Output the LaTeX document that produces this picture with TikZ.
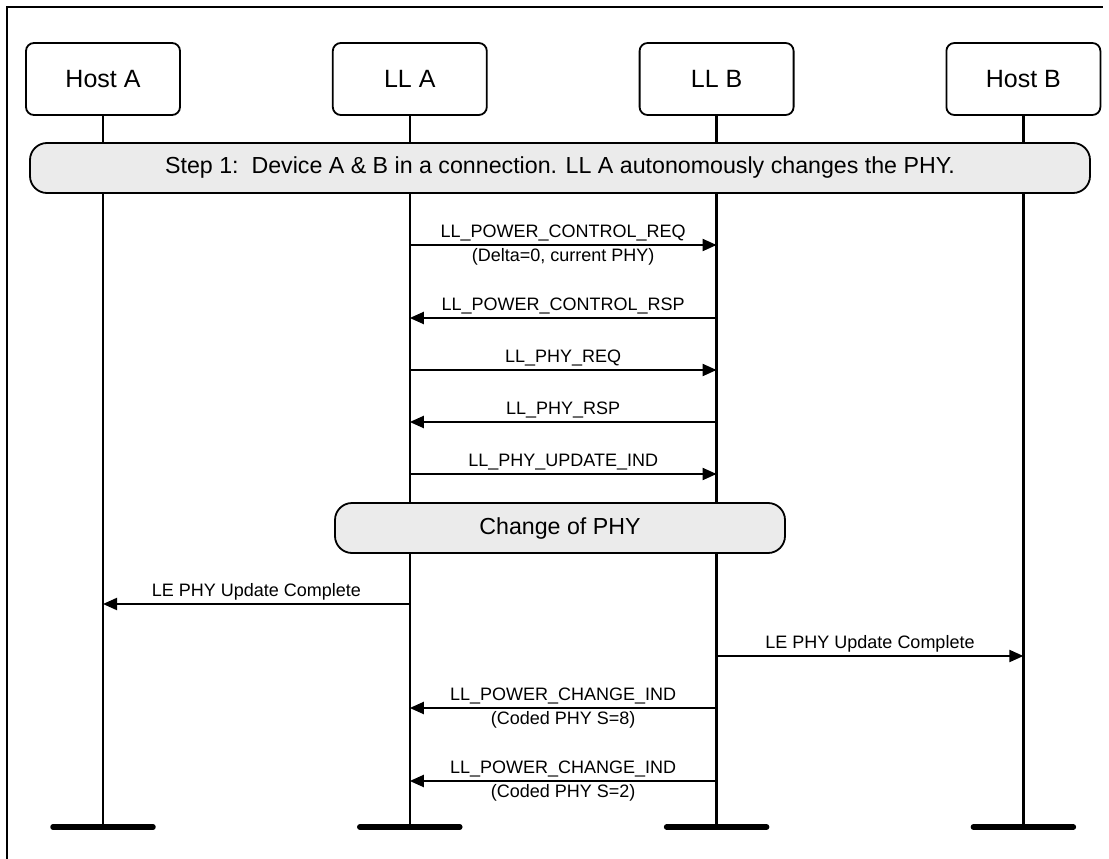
\documentclass[tikz,border=0pt]{standalone}
\usepackage{fontspec}
\setmainfont{Liberation Sans}
\usetikzlibrary{positioning,arrows.meta}
\definecolor{bandgray}{HTML}{EBEBEB}
\tikzset{
  actor/.style={draw, rounded corners=8pt, line width=1.8pt, minimum width=154pt,
                minimum height=72pt, font=\fontsize{25}{29}\selectfont},
  phase/.style={draw, rounded corners=17pt, line width=1.8pt, fill=bandgray,
                minimum height=50pt, font=\fontsize{23.2}{27}\selectfont},
  life/.style={line width=2.3pt},
  endbar/.style={line width=5.5pt, line cap=round},
  msg/.style={line width=2pt, -{Triangle[length=14pt,width=12pt]}},
  lbl/.style={font=\fontsize{18}{21}\selectfont, inner sep=2.5pt},
}
\begin{document}
\begin{tikzpicture}[x=1pt, y=-1pt, node distance=151pt]
\useasboundingbox (0,0) rectangle (1109,859);
\draw[line width=2pt] (7,859) |- (1103,7);

% participants
\node[actor] (hostA) at (103,79) {Host A};
\node[actor, right=of hostA] (llA) {LL A};
\node[actor, right=of llA] (llB) {LL B};
\node[actor, right=of llB] (hostB) {Host B};

% lifelines with end bars
\foreach \p in {hostA,llA,llB,hostB} {
  \coordinate (\p-end) at (\p |- 0,827);
  \draw[life] (\p) -- (\p-end);
  \draw[endbar] ([xshift=-50pt]\p-end) -- ([xshift=50pt]\p-end);
}

\node[phase, minimum width=1060pt] (step1) at (560,168)
  {Step 1:\ \ Device A \& B in a connection. LL A autonomously changes the PHY.};

\draw[msg] (llA |- 0,245) -- node[lbl, above] {LL\_POWER\_CONTROL\_REQ}
  node[lbl, below] {(Delta=0, current PHY)} (llB |- 0,245);
\draw[msg] (llB |- 0,318) -- node[lbl, above] {LL\_POWER\_CONTROL\_RSP} (llA |- 0,318);
\draw[msg] (llA |- 0,370) -- node[lbl, above] {LL\_PHY\_REQ} (llB |- 0,370);
\draw[msg] (llB |- 0,422) -- node[lbl, above] {LL\_PHY\_RSP} (llA |- 0,422);
\draw[msg] (llA |- 0,474) -- node[lbl, above] {LL\_PHY\_UPDATE\_IND} (llB |- 0,474);

\node[phase, minimum width=450pt] (chg) at (560,528) {Change of PHY};

\draw[msg] (llA |- 0,604) -- node[lbl, above] {LE PHY Update Complete} (hostA |- 0,604);
\draw[msg] (llB |- 0,656) -- node[lbl, above] {LE PHY Update Complete} (hostB |- 0,656);
\draw[msg] (llB |- 0,708) -- node[lbl, above] {LL\_POWER\_CHANGE\_IND}
  node[lbl, below] {(Coded PHY S=8)} (llA |- 0,708);
\draw[msg] (llB |- 0,781) -- node[lbl, above] {LL\_POWER\_CHANGE\_IND}
  node[lbl, below] {(Coded PHY S=2)} (llA |- 0,781);
\end{tikzpicture}
\end{document}
